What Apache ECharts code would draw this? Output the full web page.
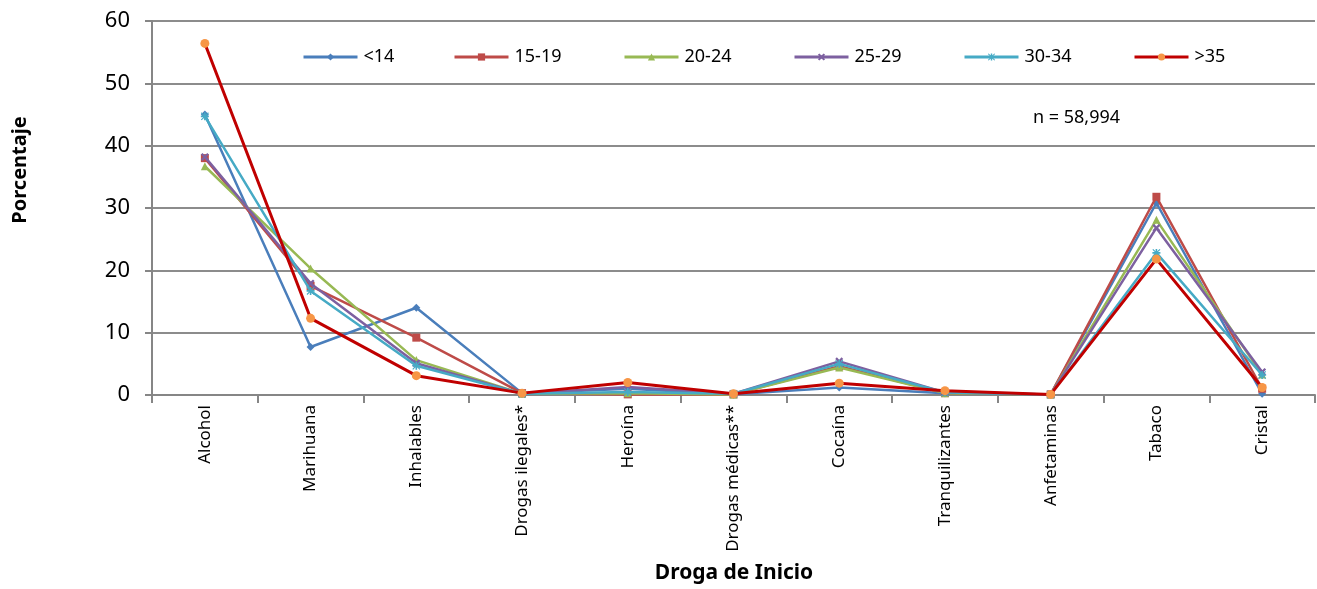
<!DOCTYPE html>
<html><head><meta charset="utf-8">
<script src="https://cdn.jsdelivr.net/npm/echarts@6/dist/echarts.min.js"></script>
<style>html,body{margin:0;padding:0;background:#fff}#c{width:1317px;height:589px}</style>
</head><body><div id="c"></div>
<script>
const categories = ['Alcohol','Marihuana','Inhalables','Drogas ilegales*','Heroína','Drogas médicas**','Cocaína','Tranquilizantes','Anfetaminas','Tabaco','Cristal'];
const seriesNames = ['<14','15-19','20-24','25-29','30-34','>35'];
const s_lt14  = [45.0, 7.7, 14.0, 0.3, 1.0, 0.1, 1.2, 0.3, 0.1, 30.8, 0.2];
const s_15_19 = [38.0, 17.5, 9.2, 0.3, 0.1, 0.1, 4.6, 0.3, 0.1, 31.8, 1.0];
const s_20_24 = [36.7, 20.3, 5.6, 0.2, 0.3, 0.1, 4.4, 0.3, 0.1, 28.1, 3.3];
const s_25_29 = [38.2, 17.9, 5.1, 0.2, 1.3, 0.2, 5.4, 0.4, 0.1, 26.8, 3.7];
const s_30_34 = [44.7, 16.7, 4.7, 0.2, 0.5, 0.2, 5.0, 0.4, 0.1, 22.8, 3.2];
const s_gt35  = [56.4, 12.3, 3.1, 0.3, 2.0, 0.2, 1.9, 0.7, 0.1, 21.8, 1.2];
const yTicks = [0,10,20,30,40,50,60];

const dataSets = [s_lt14, s_15_19, s_20_24, s_25_29, s_30_34, s_gt35];
const lineColors = ['#4A7EBB','#BE4B48','#98B954','#7D60A0','#46AAC5','#C00000'];
const markColors = ['#4A7EBB','#BE4B48','#98B954','#7D60A0','#46AAC5','#F79646'];
const xPath = 'path://M0,2L2,0L5,3L8,0L10,2L7,5L10,8L8,10L5,7L2,10L0,8L3,5Z';
const starPath = 'path://M4,0L6,0L6,3L9,0L10,1L7,4L10,4L10,6L7,6L10,9L9,10L6,7L6,10L4,10L4,7L1,10L0,9L3,6L0,6L0,4L3,4L0,1L1,0L4,3Z';
const symbols = ['diamond','rect','triangle',xPath,starPath,'circle'];
const sizes = [8,8,8,8,8,9];
const legendLeft = [302,453,623,793,963,1133];

const FONT = 'Noto Sans';
const chart = echarts.init(document.getElementById('c'));
chart.setOption({
  animation:false,
  textStyle:{fontFamily:FONT},
  grid:{left:152,right:2,top:21,bottom:194},
  legend: seriesNames.map((n,i)=>({
    left:legendLeft[i], top:48, padding:0, itemGap:0, itemWidth:54, itemHeight:9,
    lineStyle:{width:3},
    textStyle:{fontSize:18, color:'#000', fontFamily:FONT, padding:[0,0,0,1]},
    data:[n]
  })),
  xAxis:{
    type:'category', data:categories, boundaryGap:true,
    axisLine:{lineStyle:{color:'#868686', width:2}},
    axisTick:{show:true, length:8, lineStyle:{color:'#868686', width:2}},
    axisLabel:{rotate:90, fontSize:17, color:'#000', margin:10, interval:0}
  },
  yAxis:{
    type:'value', min:0, max:60, interval:10,
    axisLine:{show:true, lineStyle:{color:'#868686', width:2}},
    axisTick:{show:true, length:7, lineStyle:{color:'#868686', width:2}},
    splitLine:{lineStyle:{color:'#8c8c8c', width:2}},
    axisLabel:{fontSize:22, color:'#000', margin:22,
      formatter:v=>yTicks.includes(v)?String(v):''}
  },
  graphic:[
    {type:'text', x:1033, y:118, style:{text:'n = 58,994', fontSize:18, fill:'#000', fontFamily:FONT, align:'left', verticalAlign:'middle'}},
    {type:'text', x:20, y:170, rotation:Math.PI/2, style:{text:'Porcentaje', fontSize:20, fontWeight:'bold', fill:'#000', fontFamily:FONT, align:'center', verticalAlign:'middle'}},
    {type:'text', x:734, y:573, style:{text:'Droga de Inicio', fontSize:21, fontWeight:'bold', fill:'#000', fontFamily:FONT, align:'center', verticalAlign:'middle'}}
  ],
  series: seriesNames.map((n,i)=>({
    name:n, type:'line', data:dataSets[i],
    symbol:symbols[i], symbolSize:sizes[i], showSymbol:true,
    lineStyle:{color:lineColors[i], width:i===5?3:2.5},
    itemStyle:{color:markColors[i], borderWidth:0},
    z: 2+i
  })),
  color: markColors
});
</script>
</body></html>
